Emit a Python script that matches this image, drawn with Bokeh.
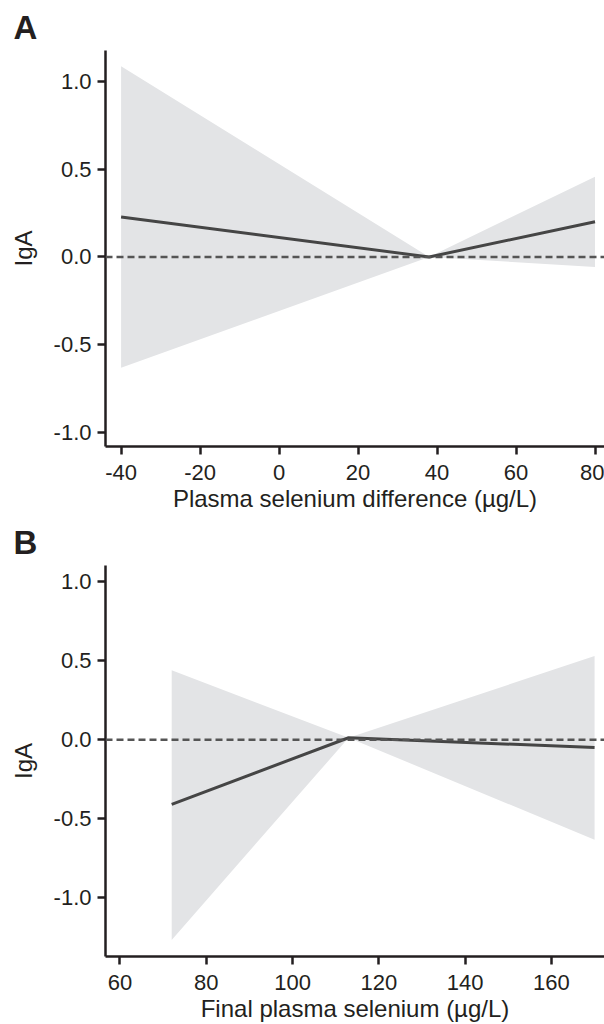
from bokeh.plotting import figure
from bokeh.models import Range1d, FixedTicker, Span
from bokeh.layouts import column
from bokeh.embed import file_html
from bokeh.resources import INLINE

# ---- data ----
# Panel A: plasma selenium difference
a_x = [-40, 38, 80]
a_fit = [0.227, 0.0, 0.20]
a_upper = [1.085, 0.0, 0.456]
a_lower = [-0.63, 0.0, -0.057]
a_xticks = [-40, -20, 0, 20, 40, 60, 80]
a_xtick_labels = ["-40", "-20", "0", "20", "40", "60", "80"]

# Panel B: final plasma selenium
b_x = [72, 113, 170]
b_fit = [-0.41, 0.012, -0.05]
b_upper = [0.44, 0.012, 0.53]
b_lower = [-1.27, 0.012, -0.635]
b_xticks = [60, 80, 100, 120, 140, 160]
b_xtick_labels = ["60", "80", "100", "120", "140", "160"]

y_ticks = [-1.0, -0.5, 0.0, 0.5, 1.0]
y_tick_labels = ["-1.0", "-0.5", "0.0", "0.5", "1.0"]

FONT = "Liberation Sans"
TXT = "#231f20"
BAND = "#e3e4e6"
LINE = "#454545"
DASH = "#555555"


def make_panel(letter, xs, fit, up, lo, xr, yr, xticks, xlabels, xlabel, height, top, bottom):
    p = figure(width=604, height=height, x_range=Range1d(*xr), y_range=Range1d(*yr),
               output_backend="svg", toolbar_location=None,
               min_border_left=105, min_border_right=0,
               min_border_top=top, min_border_bottom=bottom)
    p.title.text = letter
    p.title.text_font = FONT
    p.title.text_font_size = "33px"
    p.title.text_font_style = "bold"
    p.title.text_color = TXT
    p.title.align = "left"
    p.title.offset = -92
    p.title.standoff = 10
    p.outline_line_color = None
    p.xgrid.grid_line_color = None
    p.ygrid.grid_line_color = None
    p.background_fill_color = "white"
    p.border_fill_color = "white"

    p.varea(x=xs, y1=lo, y2=up, fill_color=BAND, fill_alpha=1.0)
    p.line(xs, fit, line_color=LINE, line_width=3)
    p.add_layout(Span(location=0, dimension="width", line_color=DASH,
                      line_width=2.5, line_dash="7 4"))

    for ax in (p.xaxis[0], p.yaxis[0]):
        ax.axis_line_color = TXT
        ax.axis_line_width = 2.5
        ax.major_tick_line_color = TXT
        ax.major_tick_line_width = 2.5
        ax.major_tick_in = 0
        ax.major_tick_out = 8
        ax.minor_tick_line_color = None
        ax.major_label_text_font = FONT
        ax.major_label_text_font_size = "22px"
        ax.major_label_text_color = TXT
        ax.axis_label_text_font = FONT
        ax.axis_label_text_font_size = "24px"
        ax.axis_label_text_font_style = "normal"
        ax.axis_label_text_color = TXT

    p.xaxis.ticker = FixedTicker(ticks=xticks)
    p.xaxis.major_label_overrides = {t: s for t, s in zip(xticks, xlabels)}
    p.xaxis.axis_label = xlabel
    p.xaxis.major_label_standoff = 10
    p.xaxis.axis_label_standoff = 2

    p.yaxis.ticker = FixedTicker(ticks=y_ticks)
    p.yaxis.major_label_overrides = {t: s for t, s in zip(y_ticks, y_tick_labels)}
    p.yaxis.axis_label = "IgA"
    p.yaxis.major_label_standoff = 6
    p.yaxis.axis_label_standoff = 14
    return p


pA = make_panel("A", a_x, a_fit, a_upper, a_lower, (-43.95, 82.4), (-1.078, 1.174),
                a_xticks, a_xtick_labels, "Plasma selenium difference (µg/L)", 516, 50, 70)
pB = make_panel("B", b_x, b_fit, b_upper, b_lower, (56.66, 172.3), (-1.375, 1.104),
                b_xticks, b_xtick_labels, "Final plasma selenium (µg/L)", 508, 47, 64)

layout = column(pA, pB, spacing=0)
open("out.html", "w").write(file_html(layout, INLINE))
